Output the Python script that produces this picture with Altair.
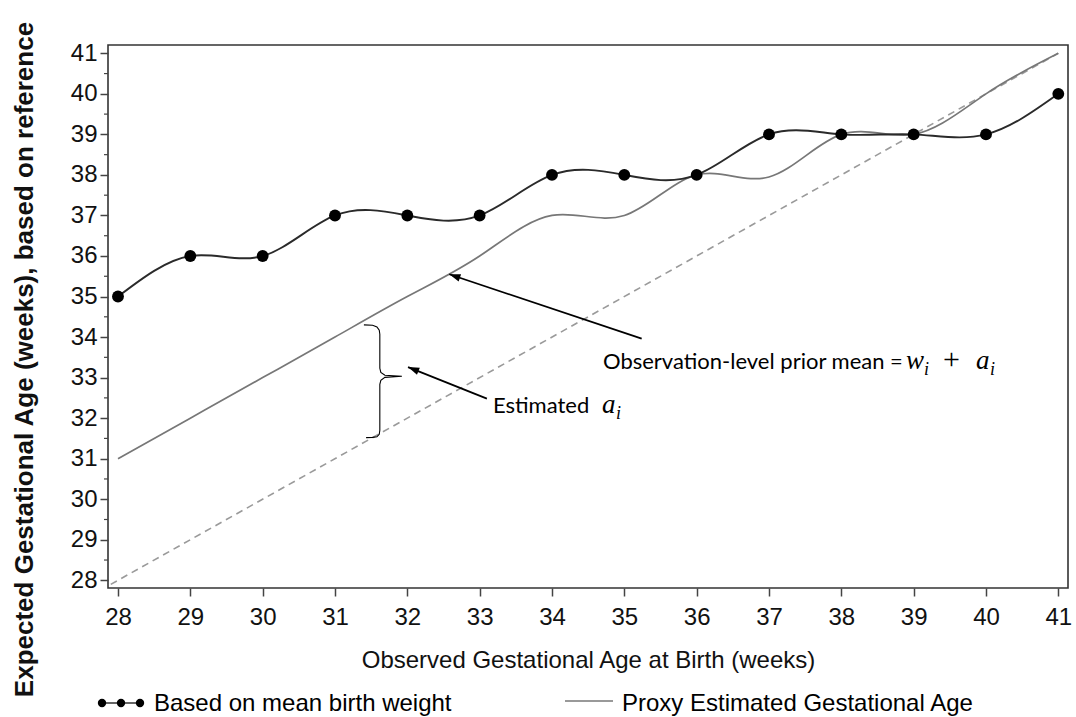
import altair as alt
import pandas as pd

# ---------------- data ----------------
weeks = [28, 29, 30, 31, 32, 33, 34, 35, 36, 37, 38, 39, 40, 41]
birth_weight_based = [35, 36, 36, 37, 37, 37, 38, 38, 38, 39, 39, 39, 39, 40]
proxy_estimated = [31, 32, 33, 34, 35, 36, 37, 37, 38, 37.95, 39, 39, 40, 41]
reference_x = [27.9, 41]
reference_y = [27.9, 41]
y_major_ticks = [28, 29, 30, 31, 32, 33, 34, 35, 36, 37, 38, 39, 40, 41]
y_minor_ticks = [28.5, 29.5, 30.5, 31.5, 32.5, 33.5, 34.5, 35.5, 36.5, 37.5, 38.5, 39.5, 40.5]

# annotation geometry (data units)
arrow_x = [35.24, 33.10]
arrow_y = [33.96, 32.48]
arrow_x2 = [32.58, 32.01]
arrow_y2 = [35.55, 33.26]
arrow_angle = [288.5, 292]
brace_x = [31.40, 31.52, 31.58, 31.612, 31.62, 31.62, 31.634, 31.69, 31.925,
           31.69, 31.634, 31.62, 31.62, 31.612, 31.58, 31.52, 31.43]
brace_y = [34.30, 34.29, 34.25, 34.17, 34.07, 33.23, 33.13, 33.057, 33.032,
           33.007, 32.933, 32.833, 31.70, 31.60, 31.54, 31.525, 31.52]

X_DOMAIN = [27.862, 41.134]
Y_DOMAIN = [27.81, 41.205]

W, H = 960, 543
AXIS_FONT = "Liberation Sans"
NOTE_FONT = "Lato"
MATH_FONT = "Liberation Serif"

xs = alt.Scale(domain=X_DOMAIN, nice=False, zero=False)
ys = alt.Scale(domain=Y_DOMAIN, nice=False, zero=False)

series = pd.DataFrame({"week": weeks, "bw": birth_weight_based, "proxy": proxy_estimated})
ref = pd.DataFrame({"x": reference_x, "y": reference_y})
one = pd.DataFrame({"k": [0]})

X_TITLE = "Observed Gestational Age at Birth (weeks)"
Y_TITLE = "Expected Gestational Age (weeks), based on reference"

x_axis = alt.Axis(
    values=weeks, format="d", tickSize=8, labelPadding=9, labelFontSize=24,
    labelFont=AXIS_FONT, labelColor="#111", tickColor="#444", tickWidth=1.5,
    domain=False, grid=False, labelFlush=False, labelOverlap=False,
    titleFont=AXIS_FONT,
    titleFontSize=24, titleFontWeight="normal", titleColor="#111",
    titleBaseline="alphabetic", titleY=79,
)
y_axis = alt.Axis(
    values=y_major_ticks, format="d", tickSize=8, labelPadding=3, labelFontSize=24,
    labelFont=AXIS_FONT, labelColor="#111", tickColor="#444", tickWidth=1.5,
    domain=False, grid=False, labelFlush=False, labelOverlap=False,
    titleFont=AXIS_FONT,
    titleFontSize=26, titleFontWeight="bold", titleColor="#111",
    titleAngle=270, titleBaseline="alphabetic", titleAlign="center",
    titleX=-76, titleY=314,
)


def X(field):
    return alt.X(field, scale=xs, axis=x_axis, title=X_TITLE)


def Y(field):
    return alt.Y(field, scale=ys, axis=y_axis, title=Y_TITLE)


reference_line = alt.Chart(ref).mark_line(
    color="#9a9a9a", strokeDash=[7, 5], strokeWidth=1.6
).encode(x=X("x:Q"), y=Y("y:Q"))

proxy_line = alt.Chart(series).mark_line(
    color="#777777", strokeWidth=1.7, interpolate="natural"
).encode(x=X("week:Q"), y=Y("proxy:Q"))

bw_line = alt.Chart(series).mark_line(
    color="#2a2a2a", strokeWidth=1.9, interpolate="natural"
).encode(x=X("week:Q"), y=Y("bw:Q"))

bw_points = alt.Chart(series).mark_point(
    filled=True, color="black", size=140, opacity=1
).encode(x=X("week:Q"), y=Y("bw:Q"))

minor = alt.Chart(pd.DataFrame({"v": y_minor_ticks})).mark_rule(
    color="#444", strokeWidth=1.2
).encode(x=alt.value(-4), x2=alt.value(0), y=Y("v:Q"))

arrows = pd.DataFrame({"x": arrow_x, "y": arrow_y, "x2": arrow_x2, "y2": arrow_y2,
                       "ang": arrow_angle})
arrow_lines = alt.Chart(arrows).mark_rule(color="black", strokeWidth=1.8).encode(
    x=X("x:Q"), y=Y("y:Q"), x2="x2:Q", y2="y2:Q",
)
arrow_heads = alt.Chart(arrows).mark_point(
    shape="M0,0 L-0.34,1 L0.34,1 Z", filled=True, color="black", size=500, opacity=1
).encode(
    x=X("x2:Q"), y=Y("y2:Q"),
    angle=alt.Angle("ang:Q", scale=None),
)

brace = alt.Chart(pd.DataFrame({"x": brace_x, "y": brace_y, "o": list(range(len(brace_x)))})).mark_line(
    color="black", strokeWidth=1.1
).encode(x=X("x:Q"), y=Y("y:Q"), order="o:Q")


def txt(text, x, y, font, size, style="normal", weight="normal", baseline="alphabetic"):
    return alt.Chart(one).mark_text(
        text=text, font=font, fontSize=size, fontStyle=style, fontWeight=weight,
        align="left", baseline=baseline, color="black",
    ).encode(x=alt.value(x), y=alt.value(y))


notes = [
    txt("Observation-level prior mean =", 495, 324, NOTE_FONT, 22),
    txt("w", 798, 324, MATH_FONT, 27, style="italic"),
    txt("i", 816, 330, MATH_FONT, 18, style="italic"),
    txt("+", 835, 324, MATH_FONT, 30),
    txt("a", 868, 324, MATH_FONT, 27, style="italic"),
    txt("i", 882, 330, MATH_FONT, 18, style="italic"),
    txt("Estimated", 385, 368, NOTE_FONT, 22),
    txt("a", 494, 368, MATH_FONT, 27, style="italic"),
    txt("i", 508, 374, MATH_FONT, 18, style="italic"),
]

# legend (below the plot)
leg_dots = alt.Chart(pd.DataFrame({"lx": [-6, 13, 32]})).mark_point(
    filled=True, color="black", size=70, opacity=1
).encode(x=alt.X("lx:Q", scale=None), y=alt.value(658))
leg_line1 = alt.Chart(one).mark_rule(color="#333", strokeWidth=1.7).encode(
    x=alt.value(-8), x2=alt.value(34), y=alt.value(658))
leg_line2 = alt.Chart(one).mark_rule(color="#777", strokeWidth=1.7).encode(
    x=alt.value(457), x2=alt.value(505), y=alt.value(656))
leg_text1 = txt("Based on mean birth weight", 46, 659, AXIS_FONT, 24, baseline="middle")
leg_text2 = txt("Proxy Estimated Gestational Age", 514, 659, AXIS_FONT, 24, baseline="middle")

chart = alt.layer(
    reference_line, proxy_line, bw_line, bw_points, minor,
    arrow_lines, arrow_heads, brace, *notes,
    leg_line1, leg_dots, leg_line2, leg_text1, leg_text2,
).properties(
    width=W, height=H,
    autosize=alt.AutoSizeParams(type="none"),
    padding={"left": 108, "top": 45, "right": 8, "bottom": 129},
    background="white",
).configure_view(
    stroke="#333", strokeWidth=1.6
)

chart.save("out.html", embed_options={"renderer": "svg", "actions": False})
